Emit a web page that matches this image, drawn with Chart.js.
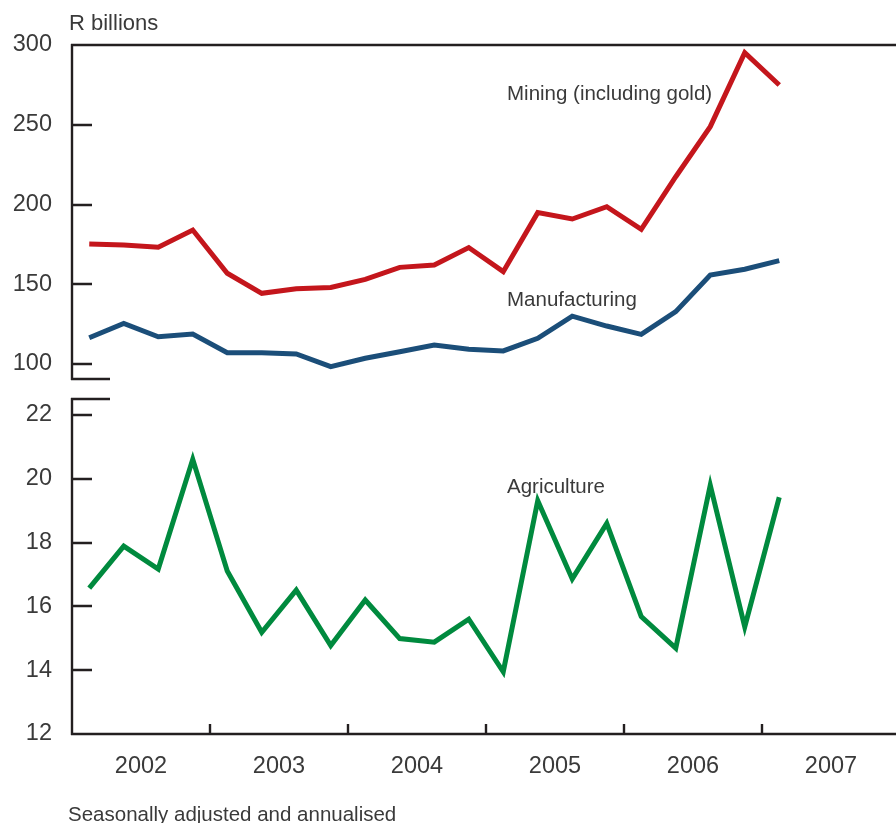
<!DOCTYPE html>
<html>
<head>
<meta charset="utf-8">
<script src="https://cdn.jsdelivr.net/npm/chart.js@4.4.1/dist/chart.umd.min.js"></script>
<style>
  html, body { margin: 0; padding: 0; background: #fff; overflow: hidden; }
  body { width: 896px; height: 823px; position: relative; font-family: 'Liberation Sans', Arial, sans-serif; color: #3a3a3a; }
  canvas { position: absolute; left: 0; }
  #chartTop { top: 0; }
  #chartBottom { top: 389px; }
  .lbl { position: absolute; font-size: 20.5px; line-height: 1; white-space: nowrap; }
</style>
</head>
<body>
<canvas id="chartTop" width="900" height="389"></canvas>
<canvas id="chartBottom" width="900" height="434"></canvas>
<div class="lbl" style="left:69px; top:12px; font-size:22px">R billions</div>
<div class="lbl" style="left:507px; top:83px">Mining (including gold)</div>
<div class="lbl" style="left:507px; top:289px">Manufacturing</div>
<div class="lbl" style="left:507px; top:476px">Agriculture</div>
<div class="lbl" style="left:68px; top:804px">Seasonally adjusted and annualised</div>
<script>
// --- DATOS ---
const quarters = ['2002Q1', '2002Q2', '2002Q3', '2002Q4', '2003Q1', '2003Q2', '2003Q3', '2003Q4',
                  '2004Q1', '2004Q2', '2004Q3', '2004Q4', '2005Q1', '2005Q2', '2005Q3', '2005Q4',
                  '2006Q1', '2006Q2', '2006Q3', '2006Q4', '2007Q1'];
const years = ['2002', '2003', '2004', '2005', '2006', '2007'];
const mining = [175.2, 174.6, 173.2, 184.0, 156.9, 144.3, 147.2, 148.0, 153.1, 160.6, 162.1,
                173.0, 157.9, 194.9, 190.9, 198.6, 184.4, 217.4, 248.8, 295.2, 274.9];
const manufacturing = [116.5, 125.5, 117.1, 118.8, 107.1, 107.1, 106.3, 98.3, 103.6, 107.7, 111.9,
                       109.2, 108.2, 116.1, 130.0, 123.8, 118.6, 132.8, 155.8, 159.4, 164.8];
const agriculture = [16.57, 17.89, 17.17, 20.61, 17.11, 15.19, 16.51, 14.77, 16.20, 14.99, 14.88,
                     15.6, 13.95, 19.31, 16.86, 18.6, 15.68, 14.69, 19.80, 15.36, 19.42];
const topTicks = [100, 150, 200, 250, 300];
const bottomTicks = [12, 14, 16, 18, 20, 22];

// --- ESTILO ---
const AXIS = '#231f20';
const TEXT = '#3a3a3a';
const tickFont = { family: "'Liberation Sans', Arial, sans-serif", size: 23.5 };

function puntos(valores) {
    return quarters.map((q, i) => ({ x: i + 0.5, y: valores[i] }));
}

function serie(valores, color) {
    return {
        data: puntos(valores),
        borderColor: color,
        borderWidth: 5,
        pointRadius: 0,
        tension: 0,
        borderJoinStyle: 'miter',
        borderCapStyle: 'butt'
    };
}

// ejes, muñones del corte y marcas hacia dentro
const marco = {
    id: 'marco',
    afterDraw(chart, args, opts) {
        const { ctx, chartArea: a, scales: { x, y } } = chart;
        ctx.save();
        ctx.strokeStyle = AXIS;
        ctx.lineWidth = 2.4;
        ctx.beginPath();
        ctx.moveTo(a.left, a.top - 1); ctx.lineTo(a.left, a.bottom + 1);
        if (opts.panel === 'top') {
            ctx.moveTo(a.left - 1, a.top); ctx.lineTo(a.right, a.top);
            ctx.moveTo(a.left - 1, a.bottom); ctx.lineTo(a.left + 38, a.bottom);
        } else {
            ctx.moveTo(a.left - 1, a.top); ctx.lineTo(a.left + 38, a.top);
            ctx.moveTo(a.left - 1, a.bottom); ctx.lineTo(a.right, a.bottom);
            for (let v = 4; v < 24; v += 4) {
                const px = Math.round(x.getPixelForValue(v));
                ctx.moveTo(px, a.bottom); ctx.lineTo(px, a.bottom - 10);
            }
        }
        y.ticks.forEach(t => {
            const py = Math.round(y.getPixelForValue(t.value));
            ctx.moveTo(a.left, py); ctx.lineTo(a.left + 20, py);
        });
        ctx.stroke();
        ctx.restore();
    }
};

function ejeY(min, max, valores) {
    return {
        min: min,
        max: max,
        afterBuildTicks: s => { s.ticks = valores.map(v => ({ value: v })); },
        afterFit: s => { s.width = 72; s.paddingTop = 0; s.paddingBottom = 0; },
        grid: { display: false, drawTicks: false },
        border: { display: false },
        ticks: { padding: 20, color: TEXT, font: tickFont }
    };
}

const comunes = {
    responsive: false,
    animation: false,
    devicePixelRatio: 1,
    events: []
};

new Chart(document.getElementById('chartTop'), {
    type: 'line',
    data: { datasets: [serie(mining, '#c4161c'), serie(manufacturing, '#1b4e79')] },
    options: {
        ...comunes,
        layout: { padding: { top: 45, bottom: 10, left: 0, right: 0 } },
        scales: {
            x: { type: 'linear', min: 0, max: 24, display: false },
            y: ejeY(90.6, 300, topTicks)
        },
        plugins: { legend: { display: false }, tooltip: { enabled: false }, marco: { panel: 'top' } }
    },
    plugins: [marco]
});

new Chart(document.getElementById('chartBottom'), {
    type: 'line',
    data: { datasets: [serie(agriculture, '#008a3e')] },
    options: {
        ...comunes,
        layout: { padding: { top: 10, bottom: 0, left: 0, right: 0 } },
        scales: {
            x: {
                type: 'linear', min: 0, max: 24,
                afterBuildTicks: s => { s.ticks = years.map((yr, i) => ({ value: i * 4 + 2 })); },
                afterFit: s => { s.height = 89; s.paddingLeft = 0; s.paddingRight = 0; },
                grid: { display: false, drawTicks: false },
                border: { display: false },
                ticks: {
                    padding: 18, color: TEXT, font: tickFont, maxRotation: 0, autoSkip: false,
                    callback: v => years[(v - 2) / 4]
                }
            },
            y: ejeY(12, 22.5, bottomTicks)
        },
        plugins: { legend: { display: false }, tooltip: { enabled: false }, marco: { panel: 'bottom' } }
    },
    plugins: [marco]
});
</script>
</body>
</html>
